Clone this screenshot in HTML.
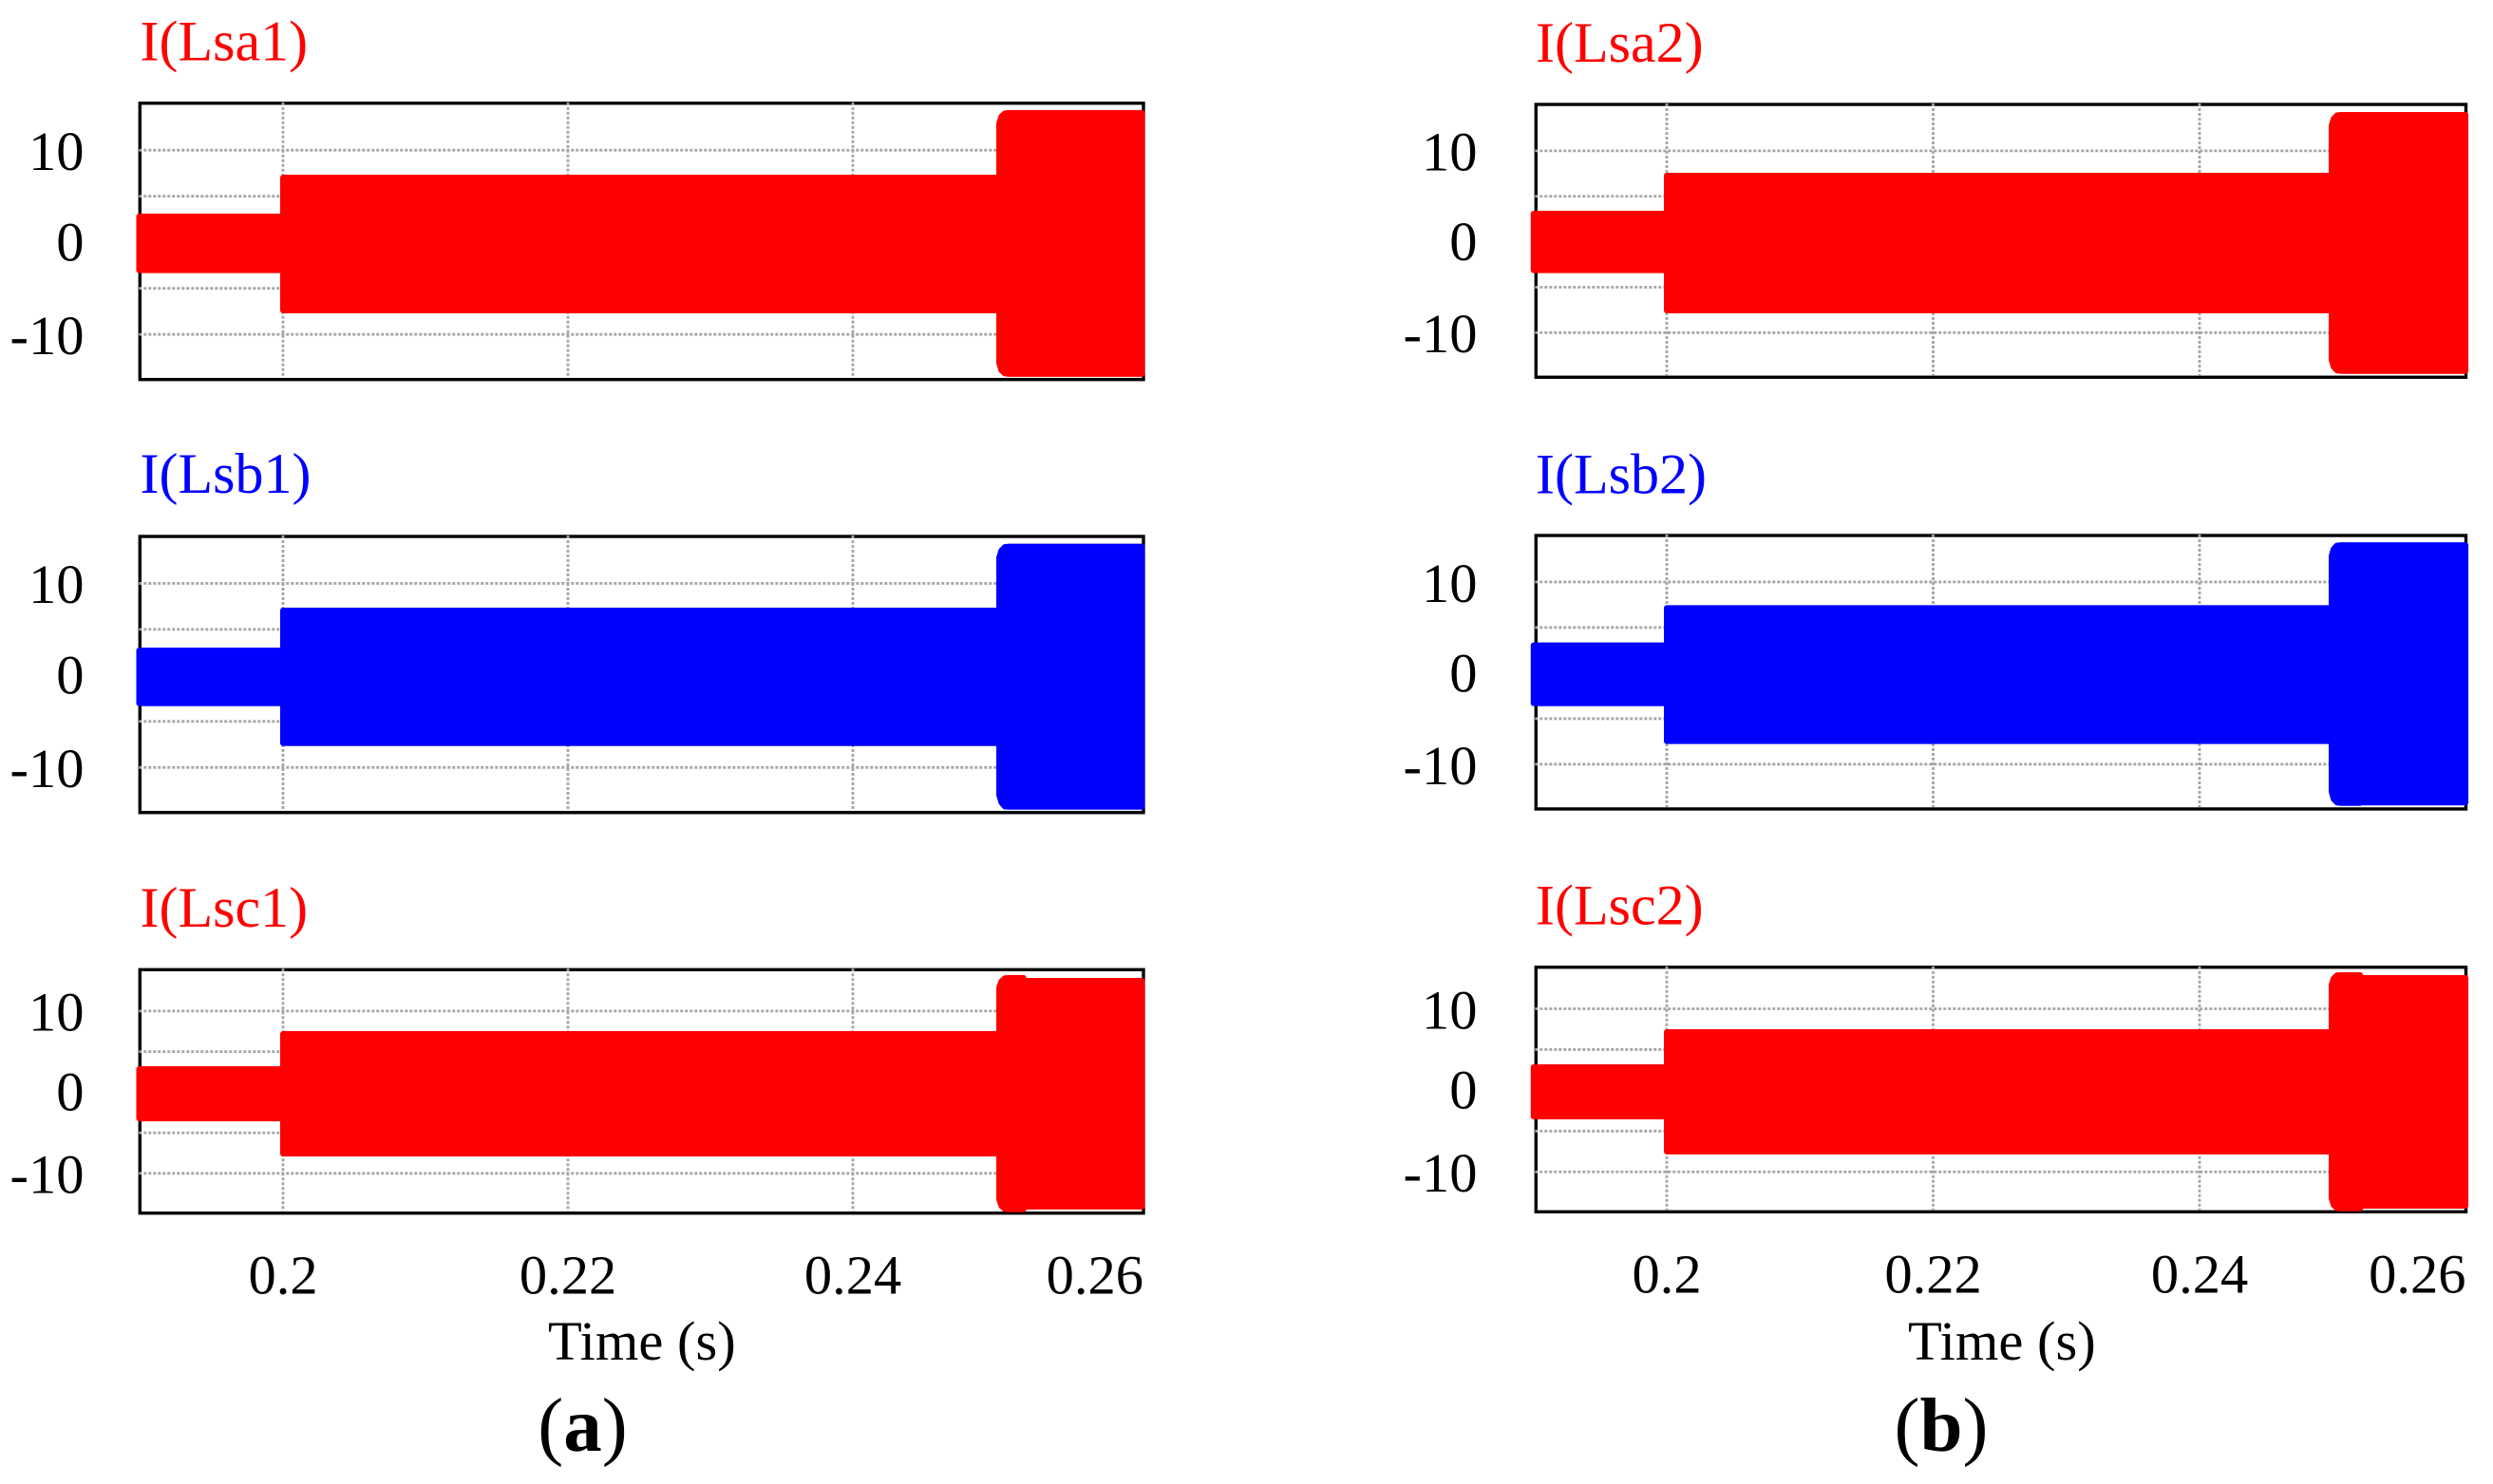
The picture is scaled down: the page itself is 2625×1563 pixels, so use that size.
<!DOCTYPE html>
<html lang="en">
<head>
<meta charset="utf-8">
<title>Inductor currents I(Lsa), I(Lsb), I(Lsc)</title>
<style>
  html, body { margin: 0; padding: 0; background: #ffffff; }
  body { width: 2625px; height: 1563px; overflow: hidden; }
  svg { display: block; }
  text { font-family: "Liberation Serif", "Times New Roman", serif; fill: #000000; }
</style>
</head>
<body>
<svg id="chart" xmlns="http://www.w3.org/2000/svg" width="2625" height="1563" viewBox="0 0 2625 1563">
  <rect x="0" y="0" width="2625" height="1563" fill="#ffffff"/>
  <g id="panels"></g>
  <text x="577" y="1432" font-size="58.5">Time (s)</text>
  <text x="2009" y="1432" font-size="58.5">Time (s)</text>
  <text x="613.5" y="1528" font-size="81" text-anchor="middle">(<tspan font-weight="bold">a</tspan>)</text>
  <text x="2044" y="1528" font-size="81" text-anchor="middle">(<tspan font-weight="bold">b</tspan>)</text>
</svg>
<script>
// ---- chart values ----
const seriesTitles = ['I(Lsa1)', 'I(Lsb1)', 'I(Lsc1)', 'I(Lsa2)', 'I(Lsb2)', 'I(Lsc2)'];
const xTickValues = [0.2, 0.22, 0.24, 0.26];
const xTickLabels = ['0.2', '0.22', '0.24', '0.26'];
const xGridValues = [0.2, 0.22, 0.24];
const yTickValues = [10, 0, -10];
const yTickLabels = ['10', '0', '-10'];
const yGridValues = [10, 5, 0, -5, -10];

// Envelope sample times (s) for column (a) and column (b)
const timesColumnA = [0.1899, 0.2, 0.2, 0.25027, 0.25027, 0.25042, 0.25067, 0.25097, 0.25197, 0.25207, 0.2603];
const timesColumnB = [0.19, 0.2, 0.2, 0.24991, 0.24991, 0.25006, 0.25031, 0.25061, 0.25205, 0.25215, 0.25997];

// Envelope of each current waveform (A): upper and lower limits at the sample times
const lsa1Upper = [2.8, 2.8, 7.03, 7.03, 12.9, 13.65, 14.0, 14.05, 14.05, 14.05, 14.05];
const lsa1Lower = [-3.04, -3.04, -7.4, -7.4, -13.1, -13.9, -14.25, -14.3, -14.3, -14.3, -14.3];
const lsb1Upper = [2.71, 2.71, 7.05, 7.05, 12.8, 13.55, 13.95, 14.0, 14.0, 14.0, 14.0];
const lsb1Lower = [-3.03, -3.03, -7.37, -7.37, -13.0, -13.8, -14.25, -14.28, -14.28, -14.28, -14.28];
const lsc1Upper = [2.85, 2.85, 7.18, 7.18, 12.9, 13.65, 14.05, 14.09, 14.09, 13.73, 13.73];
const lsc1Lower = [-3.23, -3.23, -7.56, -7.56, -13.2, -14.0, -14.4, -14.44, -14.44, -14.1, -14.1];
const lsa2Upper = [3.09, 3.09, 7.27, 7.27, 12.75, 13.5, 13.9, 13.95, 13.95, 13.95, 13.95];
const lsa2Lower = [-3.14, -3.14, -7.56, -7.56, -13.0, -13.75, -14.15, -14.21, -14.21, -14.21, -14.21];
const lsb2Upper = [3.05, 3.05, 7.15, 7.15, 12.85, 13.6, 14.0, 14.05, 14.05, 14.05, 14.05];
const lsb2Lower = [-3.31, -3.31, -7.47, -7.47, -13.0, -13.8, -14.2, -14.25, -14.25, -14.2, -14.2];
const lsc2Upper = [2.84, 2.84, 7.15, 7.15, 12.95, 13.7, 14.1, 14.14, 14.14, 13.79, 13.79];
const lsc2Lower = [-3.21, -3.21, -7.52, -7.52, -13.25, -14.05, -14.45, -14.49, -14.49, -14.16, -14.16];

// ---- layout (not data) ----
const SVG_NS = 'http://www.w3.org/2000/svg';
const yDomainMax = 15.1;
const yDomainMin = -14.9;
const columnA = { id: 'a', left: 147.3, right: 1204, x20: 298, pxPerSecond: 15000, labelRight: 88.5, titleX: 147.5, tickBaseline: 1362.7, times: timesColumnA };
const columnB = { id: 'b', left: 1617.3, right: 2596.5, x20: 1755, pxPerSecond: 14025, labelRight: 1555.5, titleX: 1617, tickBaseline: 1361.7, times: timesColumnB };
const panelDefs = [
  { key: 'lsa1', col: columnA, top: 108.7, bottom: 399.7, titleBaseline: 63.3, color: '#ff0000', upper: lsa1Upper, lower: lsa1Lower, titleIndex: 0 },
  { key: 'lsb1', col: columnA, top: 565, bottom: 855.8, titleBaseline: 519, color: '#0000ff', upper: lsb1Upper, lower: lsb1Lower, titleIndex: 1 },
  { key: 'lsc1', col: columnA, top: 1021.3, bottom: 1277.7, titleBaseline: 975.8, color: '#ff0000', upper: lsc1Upper, lower: lsc1Lower, titleIndex: 2, showXTicks: true },
  { key: 'lsa2', col: columnB, top: 110, bottom: 397.3, titleBaseline: 65, color: '#ff0000', upper: lsa2Upper, lower: lsa2Lower, titleIndex: 3 },
  { key: 'lsb2', col: columnB, top: 564, bottom: 852, titleBaseline: 519.3, color: '#0000ff', upper: lsb2Upper, lower: lsb2Lower, titleIndex: 4 },
  { key: 'lsc2', col: columnB, top: 1018.7, bottom: 1276.3, titleBaseline: 973.7, color: '#ff0000', upper: lsc2Upper, lower: lsc2Lower, titleIndex: 5, showXTicks: true }
];

function makeEl(tag, parent) {
  const el = document.createElementNS(SVG_NS, tag);
  parent.appendChild(el);
  return el;
}
function setAttrs(el, attrs) {
  Object.keys(attrs).forEach(function (k) { el.setAttribute(k, attrs[k]); });
}
function xScale(col, t) {
  return col.x20 + (t - 0.2) * col.pxPerSecond;
}
function yScale(p, v) {
  return p.top + (yDomainMax - v) / (yDomainMax - yDomainMin) * (p.bottom - p.top);
}

const root = document.getElementById('panels');

panelDefs.forEach(function (p) {
  const col = p.col;
  const g = makeEl('g', root);
  
  

  const title = makeEl('text', g);
  
  
  setAttrs(title, { x: col.titleX, y: p.titleBaseline, 'font-size': 60 });
  title.style.fill = p.color;
  title.textContent = seriesTitles[p.titleIndex];

  const frame = makeEl('rect', g);
  
  
  setAttrs(frame, { x: col.left, y: p.top, width: col.right - col.left, height: p.bottom - p.top, fill: '#ffffff', stroke: '#000000', 'stroke-width': 3.4 });

  yGridValues.forEach(function (v) {
    const line = makeEl('line', g);
    
    
    setAttrs(line, { x1: col.left - 1, x2: col.right - 2, y1: yScale(p, v), y2: yScale(p, v), stroke: '#a6a6a6', 'stroke-width': 2.8, 'stroke-dasharray': '3 2' });
  });
  xGridValues.forEach(function (t) {
    const line = makeEl('line', g);
    
    
    setAttrs(line, { x1: xScale(col, t), x2: xScale(col, t), y1: p.top - 1, y2: p.bottom - 2, stroke: '#a6a6a6', 'stroke-width': 2.8, 'stroke-dasharray': '3 2' });
  });

  const pts = [];
  col.times.forEach(function (t, i) {
    pts.push(xScale(col, t).toFixed(2) + ',' + yScale(p, p.upper[i]).toFixed(2));
  });
  for (let i = col.times.length - 1; i >= 0; i--) {
    pts.push(xScale(col, col.times[i]).toFixed(2) + ',' + yScale(p, p.lower[i]).toFixed(2));
  }
  const band = makeEl('polygon', g);
  
  
  setAttrs(band, { points: pts.join(' '), fill: p.color, stroke: p.color, 'stroke-width': 6, 'stroke-linejoin': 'round' });

  yTickValues.forEach(function (v, i) {
    const label = makeEl('text', g);
    
    
    setAttrs(label, { x: col.labelRight, y: yScale(p, v) + (v === 0 ? 19.3 : 20.8), 'font-size': 58.5, 'text-anchor': 'end' });
    label.textContent = yTickLabels[i];
  });

  if (p.showXTicks) {
    xTickValues.forEach(function (t, i) {
      const label = makeEl('text', g);
      
      
      const isLast = i === xTickValues.length - 1;
      setAttrs(label, { x: isLast ? col.right : xScale(col, t), y: col.tickBaseline, 'font-size': 58.5, 'text-anchor': isLast ? 'end' : 'middle' });
      label.textContent = xTickLabels[i];
    });
  }
});
</script>
</body>
</html>
